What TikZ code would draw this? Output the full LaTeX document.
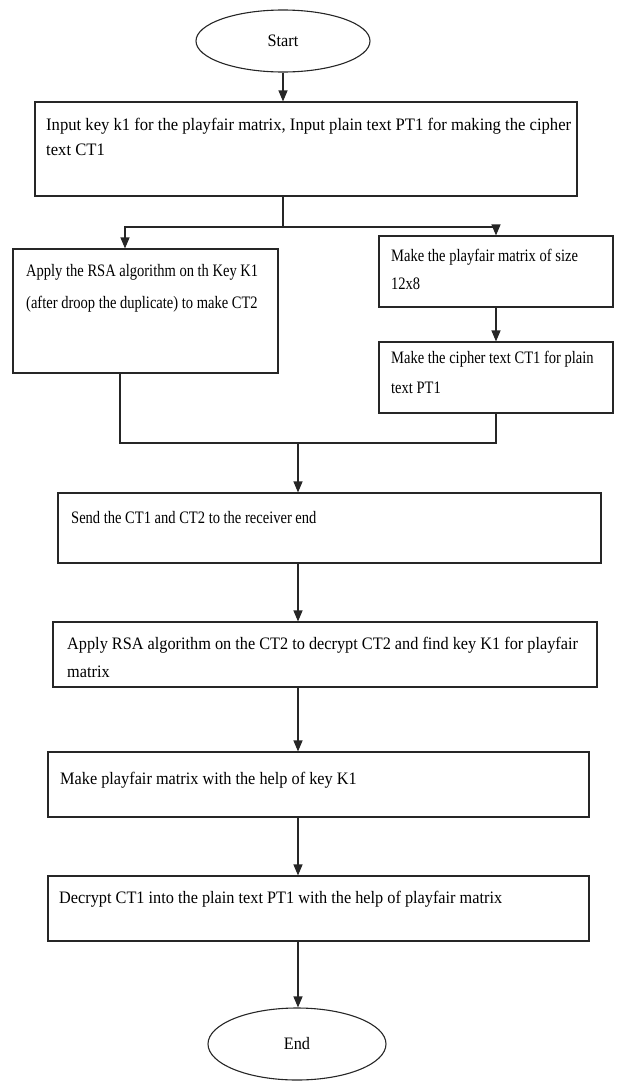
\documentclass[tikz,border=0pt]{standalone}
\usepackage{fontspec}
\setmainfont[FakeStretch=0.83]{Liberation Serif}
\newfontfamily\widerfont[FakeStretch=0.93]{Liberation Serif}
\newfontfamily\widestfont[FakeStretch=0.95]{Liberation Serif}
\usetikzlibrary{arrows.meta,shapes.geometric}
\begin{document}
\begin{tikzpicture}[x=1pt,y=-1pt,
  box/.style={draw=black!85, line width=1.1pt, rectangle, inner sep=0pt},
  term/.style={draw=black!85, line width=1.1pt, ellipse, inner sep=0pt,
    font=\widerfont\fontsize{17.5}{28}\selectfont},
  txt/.style={anchor=base west, align=left, inner sep=0pt,
    font=\fontsize{17.5}{28}\selectfont},
  txtwide/.style={txt, font=\widerfont\fontsize{17.5}{28}\selectfont},
  txtwidest/.style={txt, font=\widestfont\fontsize{17.5}{28}\selectfont},
  link/.style={line width=1.1pt, draw=black!85},
  arr/.style={link, -{Triangle[width=9pt,length=11pt]}}]
\useasboundingbox (0,0) rectangle (616,1082);

% terminals
\node[term, minimum width=174pt, minimum height=62pt] (start) at (283,41) {Start};
\node[term, minimum width=178pt, minimum height=72pt] (end) at (297,1044) {End};

% process boxes
\node[box, minimum width=542pt, minimum height=94pt] (b1)   at (306,149) {};
\node[box, minimum width=265pt, minimum height=124pt] (rsa) at (145.5,311) {};
\node[box, minimum width=234pt, minimum height=71pt] (pf)   at (496,271.5) {};
\node[box, minimum width=234pt, minimum height=71pt] (ct)   at (496,377.5) {};
\node[box, minimum width=543pt, minimum height=70pt] (send) at (329.5,528) {};
\node[box, minimum width=544pt, minimum height=65pt] (dec2) at (325,654.5) {};
\node[box, minimum width=541pt, minimum height=65pt] (mk)   at (318.5,784.5) {};
\node[box, minimum width=541pt, minimum height=65pt] (dec1) at (318.5,908.5) {};

% box texts (each anchored on the baseline of its last line)
\node[txtwidest] (t1) at (46,155) {Input key k1 for the playfair matrix, Input plain text PT1 for making the cipher\\[-3pt]text CT1};
\node[txt] (t2) at (26,308) {Apply the RSA algorithm on th Key K1\\[4pt](after droop the duplicate) to make CT2};
\node[txt] (t3) at (391,289) {Make the playfair matrix of size\\12x8};
\node[txt] (t4) at (391,393) {Make the cipher text CT1 for plain\\[2pt]text PT1};
\node[txt] (t5) at (71,523) {Send the CT1 and CT2 to the receiver end};
\node[txtwide] (t6) at (67,677) {Apply RSA algorithm on the CT2 to decrypt CT2 and find key K1 for playfair\\matrix};
\node[txtwide] (t7) at (60,784) {Make playfair matrix with the help of key K1};
\node[txtwide] (t8) at (59,903) {Decrypt CT1 into the plain text PT1 with the help of playfair matrix};

% split after the input step
\coordinate (split) at (283,227);
\coordinate (lfeed) at (125,227);
\draw[arr] (start.south) -- (start.south |- b1.north);
\draw[link] (split |- b1.south) -- (split);
\draw[arr] (split) -- (lfeed) -- (lfeed |- rsa.north);
\draw[arr] (split) -- (split -| pf.north) -- (pf.north);
\draw[arr] (pf.south) -- (ct.north);

% merge of both branches
\coordinate (lout) at (120,443);
\coordinate (axis) at (298,443);
\draw[link] (lout |- rsa.south) -- (lout) -- (lout -| ct.south) -- (ct.south);
\draw[arr] (axis) -- (axis |- send.north);
\draw[arr] (axis |- send.south) -- (axis |- dec2.north);
\draw[arr] (axis |- dec2.south) -- (axis |- mk.north);
\draw[arr] (axis |- mk.south) -- (axis |- dec1.north);
\draw[arr] (axis |- dec1.south) -- (axis |- end.north);
\end{tikzpicture}
\end{document}
